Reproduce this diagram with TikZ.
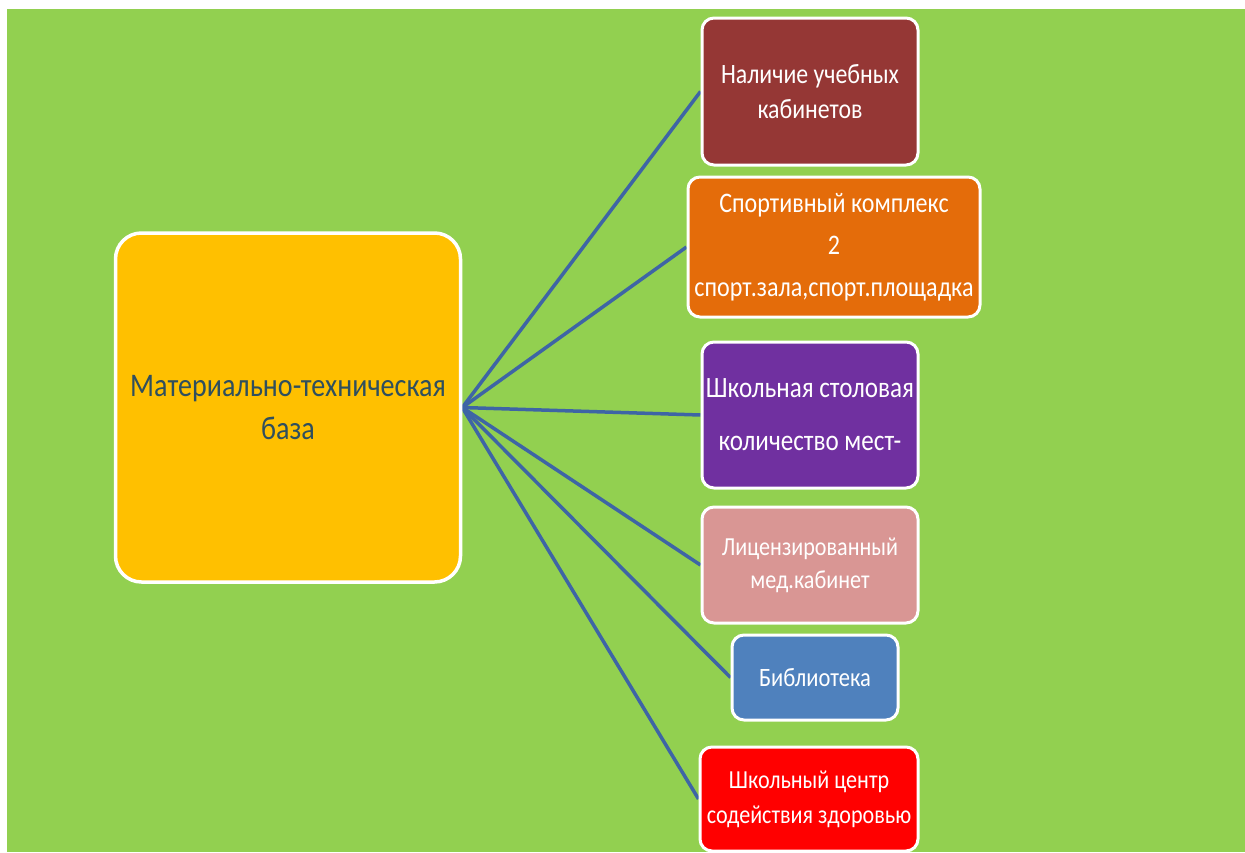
\documentclass[tikz,border=0pt]{standalone}
\usepackage{fontspec}
\setmainfont[FakeStretch=0.85]{Carlito}
\definecolor{bggreen}{HTML}{92D050}
\definecolor{mainfill}{HTML}{FFC000}
\definecolor{maintext}{HTML}{2F4F5E}
\definecolor{cbrown}{HTML}{953735}
\definecolor{corange}{HTML}{E46C0A}
\definecolor{cpurple}{HTML}{7030A0}
\definecolor{cpink}{HTML}{D99694}
\definecolor{cblue}{HTML}{4F81BD}
\definecolor{cred}{HTML}{FF0000}
\definecolor{linkblue}{HTML}{3E65A5}
\pgfdeclarelayer{bglayer}
\pgfdeclarelayer{linklayer}
\pgfsetlayers{bglayer,linklayer,main}
\begin{document}
\begin{tikzpicture}[x=1pt,y=-1pt,
  box/.style={draw=white, line width=3pt, rounded corners=12pt, text=white, align=center,
    inner sep=0pt, font=\fontsize{28}{35}\selectfont},
  mainbox/.style={draw=white, line width=3.5pt, rounded corners=26pt, fill=mainfill, text=maintext,
    align=center, inner sep=0pt, minimum width=345pt, minimum height=349pt, font=\fontsize{33}{43}\selectfont},
  link/.style={draw=linkblue, line width=3.5pt}]
\useasboundingbox (0,0) rectangle (1245,852);
\begin{pgfonlayer}{bglayer}
\fill[white] (0,0) rectangle (1245,852);
\fill[bggreen] (7,9) rectangle (1245,852);
\end{pgfonlayer}

\node[mainbox] (main) at (288,407.5) {Материально-техническая\\база};

\node[box, fill=cbrown, minimum width=216pt, minimum height=147pt] (b1) at (810,91.5) {Наличие учебных\\кабинетов};
\node[box, fill=corange, minimum width=292pt, minimum height=140pt, font=\fontsize{28.3}{42}\selectfont] (b2) at (834,247) {Спортивный комплекс\\2\\спорт.зала,спорт.площадка};
\node[box, fill=cpurple, minimum width=216pt, minimum height=146pt, font=\fontsize{29.5}{35}\selectfont] (b3) at (810,415) {Школьная столовая\\[18pt]количество мест-};
\node[box, fill=cpink, minimum width=216pt, minimum height=116pt, font=\fontsize{26}{33}\selectfont] (b4) at (810,565) {Лицензированный\\мед.кабинет};
\node[box, fill=cblue, minimum width=166pt, minimum height=85pt, font=\fontsize{26.5}{35}\selectfont] (b5) at (815,677.5) {Библиотека};
\node[box, fill=cred, minimum width=218pt, minimum height=104pt, font=\fontsize{26}{35}\selectfont] (b6) at (809,799) {Школьный центр\\содействия здоровью};

\begin{pgfonlayer}{linklayer}
\foreach \b in {b1,b2,b3,b4,b5,b6}{\draw[link] (main.east) -- (\b.west);}
\end{pgfonlayer}
\end{tikzpicture}
\end{document}
